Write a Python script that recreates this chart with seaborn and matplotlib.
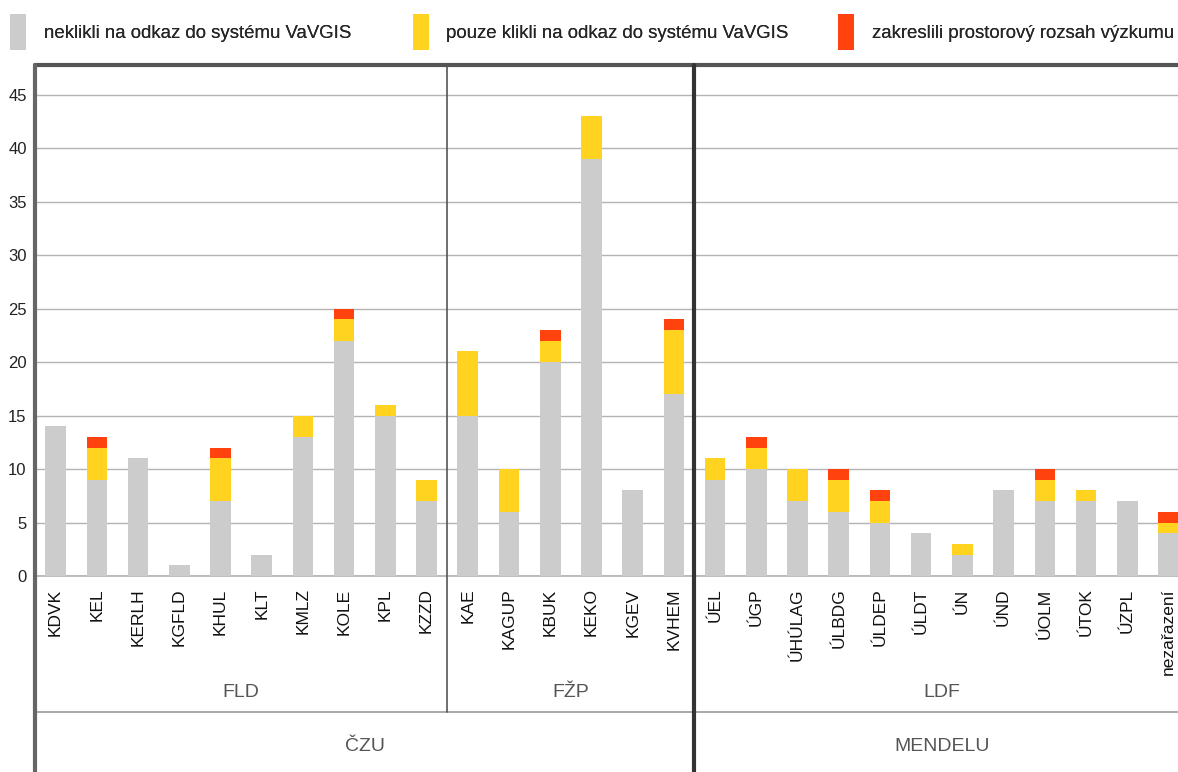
import numpy as np
import pandas as pd
import matplotlib.pyplot as plt
import seaborn as sns
from matplotlib.patches import Patch


### data
departments = ["KDVK", "KEL", "KERLH", "KGFLD", "KHUL", "KLT", "KMLZ", "KOLE", "KPL", "KZZD",
               "KAE", "KAGUP", "KBUK", "KEKO", "KGEV", "KVHEM",
               "ÚEL", "ÚGP", "ÚHÚLAG", "ÚLBDG", "ÚLDEP", "ÚLDT", "ÚN", "ÚND", "ÚOLM", "ÚTOK", "ÚZPL", "nezařazení"]
no_click = [14, 9, 11, 1, 7, 2, 13, 22, 15, 7,
            15, 6, 20, 39, 8, 17,
            9, 10, 7, 6, 5, 4, 2, 8, 7, 7, 7, 4]
click_only = [0, 3, 0, 0, 4, 0, 2, 2, 1, 2,
              6, 4, 2, 4, 0, 6,
              2, 2, 3, 3, 2, 0, 1, 0, 2, 1, 0, 1]
drew_extent = [0, 1, 0, 0, 1, 0, 0, 1, 0, 0,
               0, 0, 1, 0, 0, 1,
               0, 1, 0, 1, 1, 0, 0, 0, 1, 0, 0, 1]

faculties = ["FLD", "FŽP", "LDF"]
faculty_sizes = [10, 6, 12]
universities = ["ČZU", "MENDELU"]
university_sizes = [16, 12]

legend_labels = ["neklikli na odkaz do systému VaVGIS",
                 "pouze klikli na odkaz do systému VaVGIS",
                 "zakreslili prostorový rozsah výzkumu"]
colors = ["#cccccc", "#ffd320", "#ff420e"]


sns.set_theme(style="white")
plt.rcParams["font.family"] = ["Liberation Sans", "DejaVu Sans"]

df = pd.DataFrame({"dept": departments,
                   "l1": np.array(no_click),
                   "l2": np.array(no_click) + np.array(click_only),
                   "l3": np.array(no_click) + np.array(click_only) + np.array(drew_extent)})

fig = plt.figure(figsize=(11.78, 7.72), dpi=100)
# the reference is cropped on the right, so the axes run past the figure edge
ax = fig.add_axes([0.0297, 0.2539, 0.9797, 0.6619])

# stacked bars by overdrawing cumulative totals
for col, c in zip(["l3", "l2", "l1"], colors[::-1]):
    sns.barplot(data=df, x="dept", y=col, order=departments, color=c,
                width=0.5, linewidth=0, saturation=1, ax=ax, zorder=3)

n = len(departments)
ax.set_xlim(-0.5, n - 0.5)
ax.set_ylim(0, 47.8)
ax.set_yticks(range(0, 46, 5))
ax.yaxis.grid(True, color="#b3b3b3", linewidth=1)
ax.set_axisbelow(True)
ax.set_xlabel("")
ax.set_ylabel("")

for s in ["right", "left", "top"]:
    ax.spines[s].set_visible(False)
ax.spines["bottom"].set_color("#b3b3b3")

ax.tick_params(axis="y", labelsize=12, pad=6, length=0, labelcolor="#222222")
ax.tick_params(axis="x", which="major", length=0, labelsize=12.5, pad=9, labelcolor="#111111")
plt.setp(ax.get_xticklabels(), rotation=90, va="top", ha="center")
ax.set_xticks(np.arange(-0.5, n, 1.0), minor=True)
ax.tick_params(axis="x", which="minor", length=9, color="#b3b3b3", width=1, direction="out")

tr = ax.get_xaxis_transform()
lvl2_y = -0.266
bottom_y = -0.42

# frame and group separators
ax.plot([-0.5, n - 0.5], [1, 1], transform=tr, color="#555555", lw=3, clip_on=False, zorder=5)
ax.plot([-0.5, -0.5], [1, bottom_y], transform=tr, color="#666666", lw=3, clip_on=False, zorder=5)
ax.plot([-0.5, n - 0.5], [lvl2_y, lvl2_y], transform=tr, color="#999999", lw=1.2, clip_on=False)

start = -0.5
for i, size in enumerate(faculty_sizes):
    end = start + size
    ax.text((start + end) / 2, -0.228, faculties[i], transform=tr, ha="center", va="center",
            fontsize=14, color="#555555")
    if i == 0:
        ax.plot([end, end], [1, lvl2_y], transform=tr, color="#555555", lw=1.2, clip_on=False, zorder=5)
    start = end

start = -0.5
for i, size in enumerate(university_sizes):
    end = start + size
    ax.text((start + end) / 2, -0.333, universities[i], transform=tr, ha="center", va="center",
            fontsize=14, color="#555555")
    if i == 0:
        ax.plot([end, end], [1, bottom_y], transform=tr, color="#333333", lw=3, clip_on=False, zorder=5)
    start = end

# legend entries sit at fixed spots along the top
legend_x = [10, 413, 838]
for lx, lab, c in zip(legend_x, legend_labels, colors):
    leg = fig.legend([Patch(facecolor=c, edgecolor="none")], [lab], loc="center left",
                     bbox_to_anchor=(lx / 1178, 1 - 32 / 772), frameon=False, fontsize=13.4,
                     handlelength=0.85, handleheight=2.6, handletextpad=0.95,
                     borderpad=0, borderaxespad=0)
    fig.add_artist(leg)

fig.savefig("out.png", dpi=100)
